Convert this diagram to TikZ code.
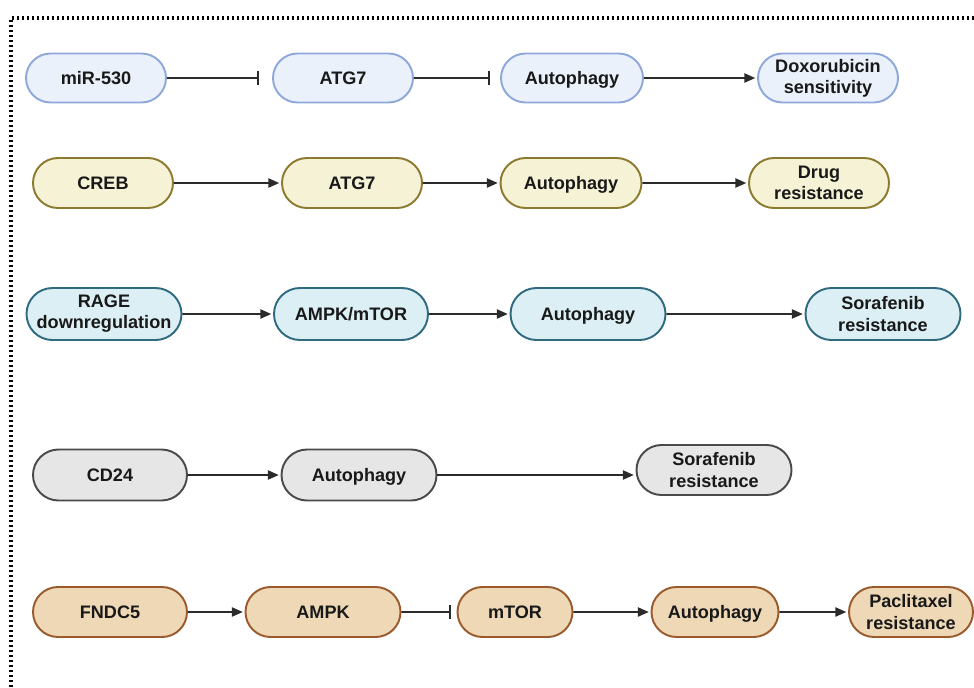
\documentclass[tikz,border=0pt]{standalone}
\usepackage{fontspec}
\setmainfont{Liberation Sans}
\usetikzlibrary{shapes.misc,arrows.meta}
\definecolor{bluefill}{HTML}{EAF1FB}
\definecolor{bluedraw}{HTML}{8FA8D9}
\definecolor{olivefill}{HTML}{F5F2D6}
\definecolor{olivedraw}{HTML}{8C7A2E}
\definecolor{tealfill}{HTML}{DBEFF5}
\definecolor{tealdraw}{HTML}{2F6A7E}
\definecolor{greyfill}{HTML}{E6E6E6}
\definecolor{greydraw}{HTML}{4A4A4A}
\definecolor{tanfill}{HTML}{EED8B6}
\definecolor{tandraw}{HTML}{9A5A2B}
\definecolor{linecol}{HTML}{2B2B2B}
\tikzset{
    pill/.style={rounded rectangle,line width=1.1pt,minimum height=1cm,
        inner sep=0pt,align=center,text=black!90,
        font=\fontsize{10.3}{12}\selectfont\bfseries},
    one/.style={text height=7.4pt,text depth=0pt},
    wd/.style={minimum width=#1*0.02cm},
    ht/.style={minimum height=#1*0.02cm},
    rowA/.style={fill=bluefill,draw=bluedraw},
    rowB/.style={fill=olivefill,draw=olivedraw},
    rowC/.style={fill=tealfill,draw=tealdraw},
    rowD/.style={fill=greyfill,draw=greydraw},
    rowE/.style={fill=tanfill,draw=tandraw}
}

\begin{document}
\begin{tikzpicture}[x=0.02cm,y=-0.02cm,line cap=butt,
    act/.style={draw=linecol,line width=1pt,-{Triangle[length=6.2pt,width=5.2pt]}},
    inh/.style={draw=linecol,line width=1pt,-{Bar[width=7.5pt,line width=1pt]}}]
    \useasboundingbox (0,0) rectangle (974,687);
    \draw[line width=2pt,dash pattern=on 0.05cm off 0.05cm] (974,18) -- (11,18) -- (11,690);

    \node[pill,one,rowA,wd=140,ht=49] (mir) at (96,78) {miR-530};
    \node[pill,one,rowA,wd=140,ht=49] (atgA) at (343,78) {ATG7};
    \node[pill,one,rowA,wd=142,ht=49] (autoA) at (572,78) {Autophagy};
    \node[pill,rowA,wd=140,ht=49] (doxo) at (828,78) {Doxorubicin\\sensitivity};

    \node[pill,one,rowB,wd=140] (creb) at (103,183) {CREB};
    \node[pill,one,rowB,wd=140] (atgB) at (352,183) {ATG7};
    \node[pill,one,rowB,wd=141] (autoB) at (571,183) {Autophagy};
    \node[pill,rowB,wd=140] (drug) at (819,183) {Drug\\resistance};

    \node[pill,rowC,wd=155,ht=52] (rage) at (104,314) {RAGE\\downregulation};
    \node[pill,one,rowC,wd=154,ht=52] (ampkmtor) at (351,314) {AMPK/mTOR};
    \node[pill,one,rowC,wd=155,ht=52] (autoC) at (588,314) {Autophagy};
    \node[pill,rowC,wd=155,ht=52] (soraC) at (883,314) {Sorafenib\\resistance};

    \node[pill,one,rowD,wd=154,ht=51] (cd24) at (110,475) {CD24};
    \node[pill,one,rowD,wd=155,ht=51] (autoD) at (359,475) {Autophagy};
    \node[pill,rowD,wd=155] (soraD) at (714,470) {Sorafenib\\resistance};

    \node[pill,one,rowE,wd=154] (fndc) at (110,612) {FNDC5};
    \node[pill,one,rowE,wd=155] (ampk) at (323,612) {AMPK};
    \node[pill,one,rowE,wd=115] (mtor) at (515,612) {mTOR};
    \node[pill,one,rowE,wd=127] (autoE) at (715,612) {Autophagy};
    \node[pill,rowE,wd=124] (pacli) at (911,612) {Paclitaxel\\resistance};

    \draw[inh,shorten >=0.26cm] (mir) -- (atgA);
    \draw[inh,shorten >=0.2cm] (atgA) -- (autoA);
    \draw[inh,shorten >=0.12cm] (ampk) -- (mtor);
    \foreach \a/\b in {autoA/doxo,creb/atgB,atgB/autoB,autoB/drug,rage/ampkmtor,
        ampkmtor/autoC,autoC/soraC,cd24/autoD,fndc/ampk,mtor/autoE,autoE/pacli}
        \draw[act,shorten >=1pt] (\a) -- (\b);
    \draw[act,shorten >=1pt] (autoD.east) -- (autoD.east -| soraD.west);
\end{tikzpicture}
\end{document}
